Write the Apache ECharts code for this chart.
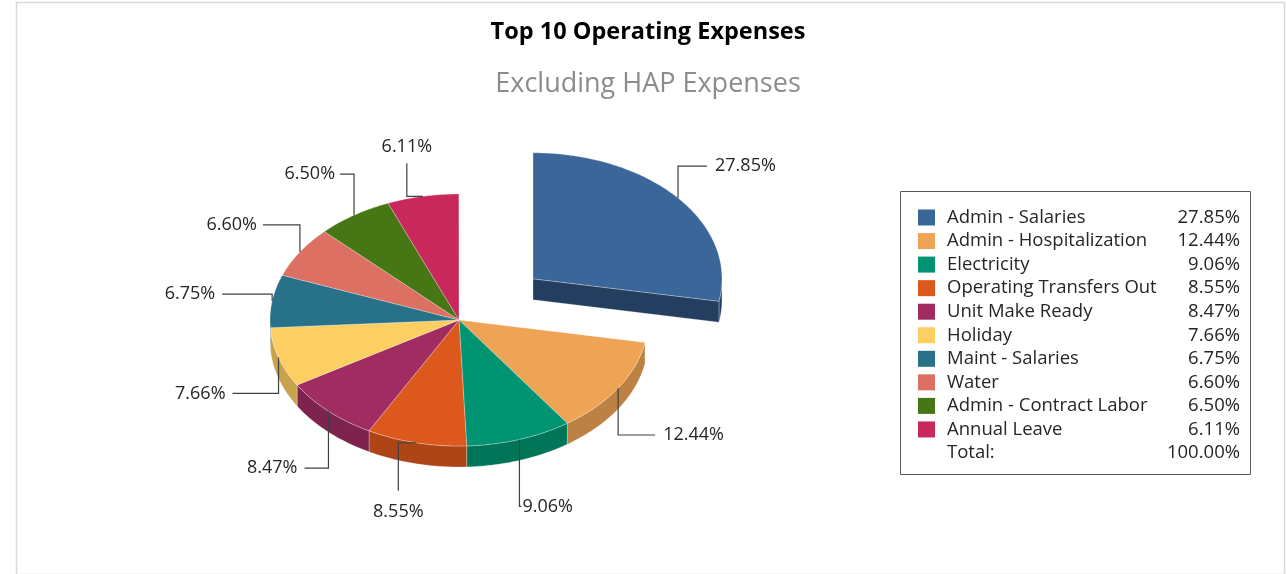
<!DOCTYPE html>
<html>
<head>
<meta charset="utf-8">
<title>Top 10 Operating Expenses</title>
<script src="https://cdn.jsdelivr.net/npm/echarts@6/dist/echarts.min.js"></script>
<style>
  html, body { margin: 0; padding: 0; background: #ffffff; }
  #chart { width: 1287px; height: 574px; }
</style>
</head>
<body>
<div id="chart"></div>
<script>
// Expense categories and their share of the total (percent)
const categories = [
  'Admin - Salaries',
  'Admin - Hospitalization',
  'Electricity',
  'Operating Transfers Out',
  'Unit Make Ready',
  'Holiday',
  'Maint - Salaries',
  'Water',
  'Admin - Contract Labor',
  'Annual Leave'
];
const shares = [27.85, 12.44, 9.06, 8.55, 8.47, 7.66, 6.75, 6.60, 6.50, 6.11];
const totalLabel = '100.00%';

// Styling
const FONT = '"Open Sans", sans-serif';
const topColors = ['#3A6699', '#EFA354', '#009473', '#DD581D', '#A02C62',
                   '#FDCE62', '#287289', '#DB7063', '#467714', '#C8285A'];
const sideColors = ['#243E60', '#BD8243', '#007558', '#AE4517', '#7E234D',
                    '#C9A24D', '#1F5A6D', '#AD594F', '#375E10', '#9E2047'];
const explodeBy = [0.51, 0, 0, 0, 0, 0, 0, 0, 0, 0];   // fraction of radius
const TILT = 126 / 189;   // vertical squash of the disc
const DEPTH = 21;         // thickness of the disc in px

// Leader lines: 'vh' = vertical then horizontal leg, 'hv' = horizontal then vertical
const labelLegs = [
  { path: 'vh', d: [-32, 29], gap: 8 },
  { path: 'vh', d: [47, 37], gap: 8 },
  { path: 'vh', d: [67, 2], gap: 1 },
  { path: 'hv', d: [-18, 48], gap: 21 },
  { path: 'vh', d: [57, -24], gap: 7 },
  { path: 'vh', d: [36, -46], gap: 7 },
  { path: 'vh', d: [-7, -50], gap: 7 },
  { path: 'vh', d: [-27, -37], gap: 6 },
  { path: 'vh', d: [-41, -14], gap: 5 },
  { path: 'hv', d: [-16, -33], gap: 16 }
];

// cumulative start of each slice on the 0..100 angle scale
const starts = [];
shares.reduce((acc, v, i) => { starts[i] = acc; return acc + v; }, 0);

function makeRenderer(i) {
  return function (params, api) {
    const a0 = api.value(0);
    const a1 = api.value(1);
    const c = api.coord([0, 0]);
    const squash = p => [p[0], c[1] + (p[1] - c[1]) * TILT];
    const mid = (a0 + a1) / 2;
    const e = squash(api.coord([explodeBy[i], mid]));
    const off = [e[0] - c[0], e[1] - c[1]];
    const pt = (r, a) => {
      const p = squash(api.coord([r, a]));
      return [p[0] + off[0], p[1] + off[1]];
    };
    const down = p => [p[0], p[1] + DEPTH];
    const apex = [c[0] + off[0], c[1] + off[1]];
    const arcPts = (from, to) => {
      const n = Math.max(4, Math.ceil((to - from) / 0.25));
      const out = [];
      for (let k = 0; k <= n; k++) out.push(pt(1, from + (to - from) * k / n));
      return out;
    };
    const edge = { stroke: 'rgba(255,255,255,0.45)', lineWidth: 0.6 };
    const children = [];

    // outer wall, visible on the front half of the disc (25..75)
    const f0 = Math.max(a0, 25), f1 = Math.min(a1, 75);
    if (f1 > f0) {
      const topArc = arcPts(f0, f1);
      const bottomArc = topArc.map(down).reverse();
      children.push({
        type: 'polygon',
        shape: { points: topArc.concat(bottomArc) },
        style: Object.assign({ fill: sideColors[i] }, edge)
      });
    }
    // cut faces of a pulled-out slice that turn toward the viewer
    if (explodeBy[i] > 0) {
      [[a1, a1 > 0 && a1 < 50], [a0, a0 > 50 && a0 < 100]].forEach(([a, visible]) => {
        if (!visible) return;
        const p = pt(1, a);
        children.push({
          type: 'polygon',
          shape: { points: [apex, p, down(p), down(apex)] },
          style: Object.assign({ fill: sideColors[i] }, edge)
        });
      });
    }
    // top face
    children.push({
      type: 'polygon',
      shape: { points: [apex].concat(arcPts(a0, a1)) },
      style: Object.assign({ fill: api.visual('color') }, edge)
    });

    // leader line and value label
    const leg = labelLegs[i];
    const anchor = pt(1, mid);
    let p1, p2, text;
    const label = api.value(2).toFixed(2) + '%';
    const textStyle = { text: label, fill: '#262626', font: '18px ' + FONT };
    if (leg.path === 'vh') {
      p1 = [anchor[0], anchor[1] + leg.d[0]];
      p2 = [p1[0] + leg.d[1], p1[1]];
      const dir = leg.d[1] >= 0 ? 1 : -1;
      text = {
        type: 'text', x: p2[0] + dir * leg.gap, y: p2[1],
        style: Object.assign({ align: dir > 0 ? 'left' : 'right', verticalAlign: 'middle' }, textStyle)
      };
    } else {
      p1 = [anchor[0] + leg.d[0], anchor[1]];
      p2 = [p1[0], p1[1] + leg.d[1]];
      const dir = leg.d[1] >= 0 ? 1 : -1;
      text = {
        type: 'text', x: p2[0], y: p2[1] + dir * leg.gap,
        style: Object.assign({ align: 'center', verticalAlign: 'middle' }, textStyle)
      };
    }
    children.push({
      type: 'polyline',
      shape: { points: [anchor, p1, p2] },
      style: { stroke: '#404040', lineWidth: 1.2, fill: null }
    });
    children.push(text);

    return { type: 'group', children };
  };
}

const series = categories.map((name, i) => ({
  type: 'custom',
  name: name,
  coordinateSystem: 'polar',
  itemStyle: { color: topColors[i] },
  data: [[starts[i], starts[i] + shares[i], shares[i]]],
  renderItem: makeRenderer(i)
}));

const chart = echarts.init(document.getElementById('chart'), null, { renderer: 'canvas' });
chart.setOption({
  animation: false,
  backgroundColor: '#ffffff',
  polar: { center: [459, 320], radius: 189 },
  angleAxis: { type: 'value', min: 0, max: 100, startAngle: 90, clockwise: true, show: false },
  radiusAxis: { type: 'value', min: 0, max: 1, show: false },
  legend: {
    orient: 'vertical',
    left: 918,
    top: 208,
    icon: 'rect',
    itemWidth: 17,
    itemHeight: 16,
    itemGap: 4.55,
    padding: 0,
    selectedMode: false,
    data: categories,
    formatter: name => {
      const v = shares[categories.indexOf(name)].toFixed(2) + '%';
      return '{n|' + name + '}{v|' + v + '}';
    },
    textStyle: {
      fontFamily: FONT,
      rich: {
        n: { fontFamily: FONT, fontSize: 18.5, color: '#262626', width: 218, padding: [0, 0, 0, 7], lineHeight: 17 },
        v: { fontFamily: FONT, fontSize: 18.5, color: '#262626', width: 75, align: 'right', lineHeight: 17 }
      }
    }
  },
  graphic: [
    {
      type: 'rect', left: 14, top: 0, z: -10, silent: true,
      shape: { x: 0, y: 0, width: 1268, height: 572 },
      style: { fill: null, stroke: '#d9d9d9', lineWidth: 1.5 }
    },
    {
      type: 'text', x: 648, y: 32, silent: true,
      style: { text: 'Top 10 Operating Expenses', align: 'center', verticalAlign: 'middle',
               font: 'bold 23.5px ' + FONT, fill: '#000000' }
    },
    {
      type: 'text', x: 648, y: 84, silent: true,
      style: { text: 'Excluding HAP Expenses', align: 'center', verticalAlign: 'middle',
               font: '27px ' + FONT, fill: '#8c8c8c' }
    },
    {
      type: 'rect', silent: true, x: 900.5, y: 191.5,
      shape: { x: 0, y: 0, width: 350, height: 283 },
      style: { fill: null, stroke: '#595959', lineWidth: 1 }
    },
    {
      type: 'text', x: 947, y: 453, silent: true,
      style: { text: 'Total:', align: 'left', verticalAlign: 'middle', font: '18.5px ' + FONT, fill: '#262626' }
    },
    {
      type: 'text', x: 1240, y: 453, silent: true,
      style: { text: totalLabel, align: 'right', verticalAlign: 'middle', font: '18.5px ' + FONT, fill: '#262626' }
    }
  ],
  series: series
});
</script>
</body>
</html>
